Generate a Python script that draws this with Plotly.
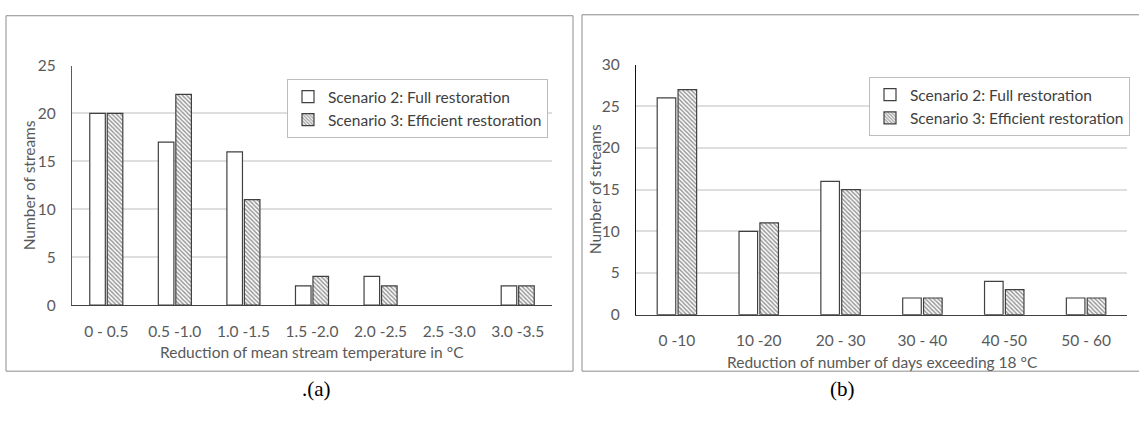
import plotly.graph_objects as go
from plotly.subplots import make_subplots

W, H = 1139, 429

# (a) reduction of mean stream temperature
temp_bins = ["0 - 0.5", "0.5 -1.0", "1.0 -1.5", "1.5 -2.0", "2.0 -2.5", "2.5 -3.0", "3.0 -3.5"]
temp_full = [20, 17, 16, 2, 3, 0, 2]
temp_eff = [20, 22, 11, 3, 2, 0, 2]

# (b) reduction of number of days exceeding 18 °C
days_bins = ["0 -10", "10 -20", "20 - 30", "30 - 40", "40 -50", "50 - 60"]
days_full = [26, 10, 16, 2, 4, 2]
days_eff = [27, 11, 15, 2, 3, 2]

name_full = "Scenario 2: Full restoration"
name_eff = "Scenario 3: Efficient restoration"

FONT = "Lato"
FS = 15.5
TXT = "#595959"
EDGE = "#404040"


def px(x):
    return x / W


def py(y):
    return 1 - y / H


fig = make_subplots(rows=1, cols=2)


def outline(values):
    # empty bins get no outline so nothing is drawn on the baseline
    return [0 if v == 0 else 1.2 for v in values]


def add_pair(cats, full, eff, col, legend):
    fig.add_trace(go.Bar(
        x=cats, y=full, name=name_full, legend=legend,
        marker=dict(color="white", line=dict(color=EDGE, width=outline(full))),
    ), row=1, col=col)
    fig.add_trace(go.Bar(
        x=cats, y=eff, name=name_eff, legend=legend,
        marker=dict(color="white", line=dict(color=EDGE, width=outline(eff)),
                    pattern=dict(shape="\\", size=3, solidity=0.5,
                                 fgcolor="#333333", bgcolor="white")),
    ), row=1, col=col)


add_pair(temp_bins, temp_full, temp_eff, 1, "legend")
add_pair(days_bins, days_full, days_eff, 2, "legend2")

axis_font = dict(family=FONT, size=FS, color=TXT)

fig.update_xaxes(showgrid=False, showline=True, linecolor=EDGE, linewidth=1.2,
                 ticks="", tickfont=axis_font, ticklabelstandoff=12,
                 fixedrange=True)
fig.update_yaxes(showgrid=True, gridcolor="#dedede", gridwidth=1.5, dtick=5,
                 showline=True, linewidth=1.2, ticks="", tickfont=axis_font,
                 ticklabelstandoff=12, zeroline=False, fixedrange=True)

fig.update_xaxes(domain=[px(72), px(552)], row=1, col=1)
fig.update_yaxes(domain=[py(308), py(58)], range=[0, 25], linecolor="#5a5a5a",
                 row=1, col=1)
fig.update_xaxes(domain=[px(636), px(1127)], row=1, col=2)
fig.update_yaxes(domain=[py(318), py(57)], range=[0, 30], linecolor="#111111",
                 row=1, col=2)

legend_style = dict(
    xanchor="left", yanchor="top", bgcolor="white", bordercolor="#bdbdbd",
    borderwidth=1, font=dict(family=FONT, size=FS, color="#404040"),
    itemwidth=30, tracegroupgap=0,
)

fig.update_layout(
    width=W, height=H,
    margin=dict(l=0, r=0, t=0, b=0),
    paper_bgcolor="white", plot_bgcolor="white",
    barmode="group", bargap=0.49, bargroupgap=0.11,
    legend=dict(x=px(287), y=py(72), **legend_style),
    legend2=dict(x=px(869), y=py(70), **legend_style),
    shapes=[
        dict(type="rect", xref="paper", yref="paper",
             x0=px(6), y0=py(377), x1=px(573), y1=py(6),
             line=dict(color="#8c8c8c", width=1)),
        dict(type="rect", xref="paper", yref="paper",
             x0=px(582), y0=py(377), x1=1.01, y1=py(5),
             line=dict(color="#8c8c8c", width=1)),
    ],
)

title_font = dict(family=FONT, size=FS, color=TXT)
annotations = [
    dict(text="Number of streams", x=px(29), y=py(183), textangle=-90),
    dict(text="Reduction of mean stream temperature in °C", x=px(312), y=py(357)),
    dict(text="Number of streams", x=px(595), y=py(187), textangle=-90),
    dict(text="Reduction of number of days exceeding 18 °C", x=px(882), y=py(367)),
]
for a in annotations:
    fig.add_annotation(xref="paper", yref="paper", showarrow=False,
                       xanchor="center", yanchor="middle", font=title_font, **a)

panel_font = dict(family="Liberation Serif", size=21, color="black")
fig.add_annotation(text=".(a)", x=px(300), y=py(410), xref="paper", yref="paper",
                   showarrow=False, font=panel_font)
fig.add_annotation(text="(b)", x=px(857), y=py(410), xref="paper", yref="paper",
                   showarrow=False, font=panel_font)

fig.write_html("out.html")
